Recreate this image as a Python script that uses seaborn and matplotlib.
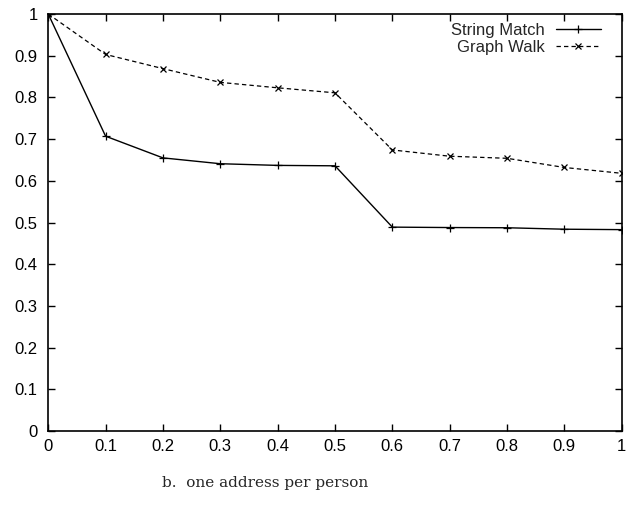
import matplotlib
matplotlib.use("Agg")
import matplotlib.pyplot as plt
import seaborn as sns
import pandas as pd

x_vals = [0, 0.1, 0.2, 0.3, 0.4, 0.5, 0.6, 0.7, 0.8, 0.9, 1.0]
string_match = [1.0, 0.707, 0.655, 0.641, 0.637, 0.636, 0.489, 0.488, 0.4875, 0.484, 0.483]
graph_walk = [1.0, 0.903, 0.869, 0.836, 0.823, 0.811, 0.674, 0.659, 0.654, 0.632, 0.618]
x_ticks = [0, 0.1, 0.2, 0.3, 0.4, 0.5, 0.6, 0.7, 0.8, 0.9, 1]
x_ticklabels = ["0", "0.1", "0.2", "0.3", "0.4", "0.5", "0.6", "0.7", "0.8", "0.9", "1"]
y_ticks = [0, 0.1, 0.2, 0.3, 0.4, 0.5, 0.6, 0.7, 0.8, 0.9, 1]
y_ticklabels = ["0", "0.1", "0.2", "0.3", "0.4", "0.5", "0.6", "0.7", "0.8", "0.9", "1"]
caption = "b.  one address per person"

sns.set_style("ticks")
plt.rcParams['font.family'] = ['Liberation Sans', 'DejaVu Sans']

fig = plt.figure(figsize=(6.39, 5.12), dpi=100)
ax = fig.add_axes([0.0755, 0.158, 0.8975, 0.8147])

df_sm = pd.DataFrame({"x": x_vals, "y": string_match})
df_gw = pd.DataFrame({"x": x_vals, "y": graph_walk})

sns.lineplot(data=df_sm, x="x", y="y", ax=ax, color="black", linewidth=1.0,
             marker="+", markersize=5.5, markeredgewidth=0.9,
             markeredgecolor="black", linestyle="-",
             label="String Match")
sns.lineplot(data=df_gw, x="x", y="y", ax=ax, color="black", linewidth=0.9,
             marker="x", markersize=4.5, markeredgewidth=0.9,
             markeredgecolor="black", linestyle=(0, (3.5, 2.5)),
             label="Graph Walk")

ax.set_xlim(0, 1)
ax.set_ylim(0, 1)
ax.set_xticks(x_ticks)
ax.set_xticklabels(x_ticklabels)
ax.set_yticks(y_ticks)
ax.set_yticklabels(y_ticklabels)
ax.set_xlabel("")
ax.set_ylabel("")
ax.tick_params(direction="in", top=True, right=True, length=5, width=1,
               labelsize=12, colors="black", pad=6)
ax.tick_params(axis="y", pad=7.5)
for s in ax.spines.values():
    s.set_visible(True)
    s.set_linewidth(1.2)
    s.set_color("black")

leg = ax.legend(loc="upper right", frameon=False, markerfirst=False,
                fontsize=12, handlelength=2.7, borderaxespad=0.0,
                labelspacing=0.15, handletextpad=0.65,
                bbox_to_anchor=(0.975, 0.995))

fig.text(0.415, 0.057, caption, ha="center", va="center",
         family=["DejaVu Serif"], fontsize=11)

fig.savefig("out.png", dpi=100)
